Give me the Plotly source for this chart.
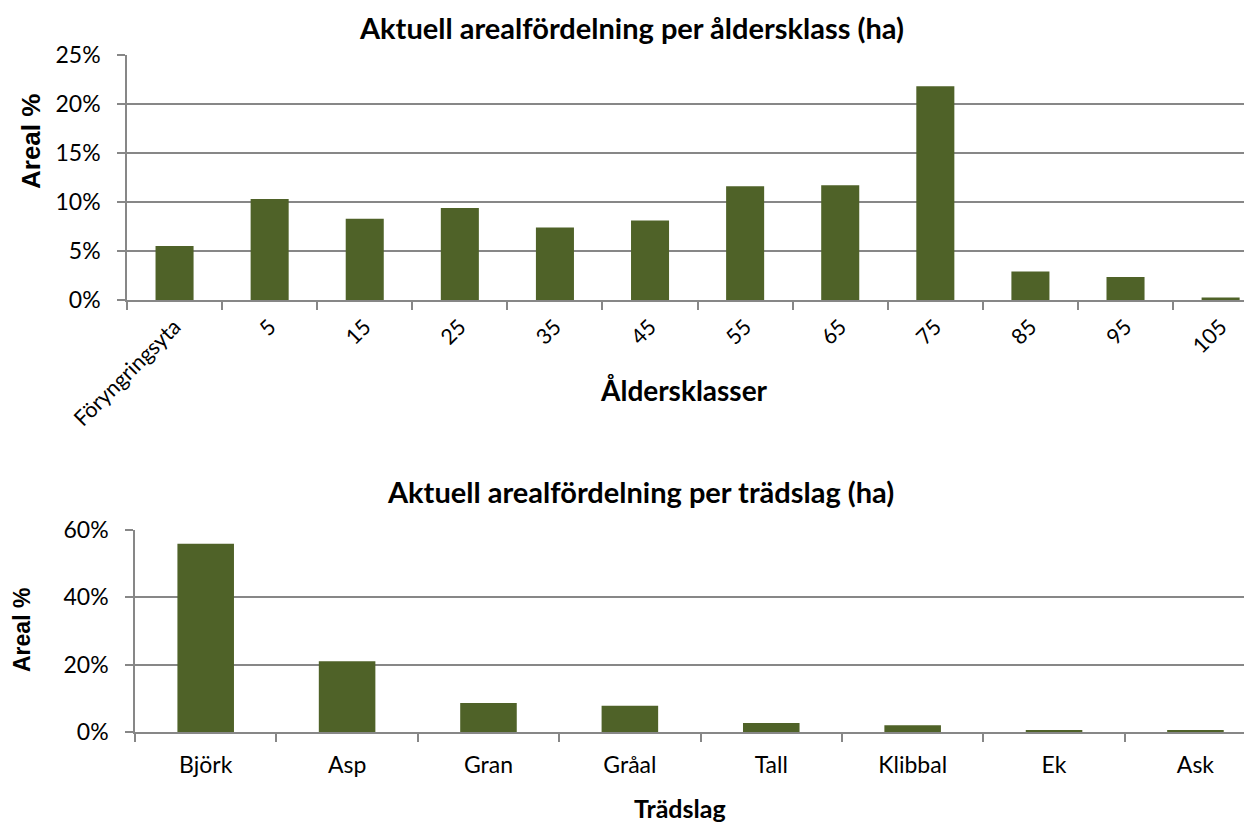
import plotly.graph_objects as go

# Data
age_classes = ["Föryngringsyta", "5", "15", "25", "35", "45", "55", "65", "75", "85", "95", "105"]
age_share = [5.5, 10.3, 8.3, 9.4, 7.4, 8.1, 11.6, 11.7, 21.8, 2.9, 2.35, 0.25]

species = ["Björk", "Asp", "Gran", "Gråal", "Tall", "Klibbal", "Ek", "Ask"]
species_share = [55.9, 21.0, 8.6, 7.8, 2.7, 2.0, 0.3, 0.3]

top_title = "Aktuell arealfördelning per åldersklass (ha)"
bottom_title = "Aktuell arealfördelning per trädslag (ha)"
top_xtitle = "Åldersklasser"
bottom_xtitle = "Trädslag"
ytitle = "Areal %"

OFF = 8  # page body margin
W, H = 1252 - OFF, 822 - OFF
BAR = "#4F6228"
GRID = "#878787"
FONT = "Lato, 'Open Sans', sans-serif"
AFONT = "'Liberation Sans', Arial, sans-serif"

def px(x):
    return (x - OFF) / W

def py(y):
    return 1 - (y - OFF) / H

fig = go.Figure()
fig.add_trace(go.Bar(x=age_classes, y=age_share, marker=dict(color=BAR, line=dict(width=0)),
                     xaxis="x", yaxis="y", showlegend=False))
fig.add_trace(go.Bar(x=species, y=species_share, marker=dict(color=BAR, line=dict(width=0)),
                     xaxis="x2", yaxis="y2", showlegend=False))

axis_common = dict(showline=True, linecolor=GRID, linewidth=1.5, mirror=False,
                   ticks="outside", tickcolor=GRID, tickwidth=1.5, ticklen=8,
                   automargin=False,
                   tickfont=dict(family=FONT, size=23, color="#000"))

fig.update_layout(
    width=W, height=H, margin=dict(l=0, r=0, t=0, b=0, autoexpand=False),
    paper_bgcolor="white", plot_bgcolor="white",
    bargap=0.6,
    xaxis=dict(domain=[px(127), 1.0], anchor="y", type="category",
               range=[-0.5, 11.33], tickson="boundaries", tickangle=-45,
               ticklabelstandoff=4,
               showgrid=False, **axis_common),
    yaxis=dict(domain=[py(300), py(55)], anchor="x", range=[0, 25],
               tickvals=[0, 5, 10, 15, 20, 25], ticktext=["0%", "5%", "10%", "15%", "20%", "25%"],
               showgrid=True, gridcolor=GRID, gridwidth=1.5, zeroline=False,
               ticklabelstandoff=12,
               **axis_common),
    xaxis2=dict(domain=[px(135), 1.0], anchor="y2", type="category",
                range=[-0.5, 7.4], tickson="boundaries", tickangle=0,
                ticklabelstandoff=12,
                showgrid=False, **axis_common),
    yaxis2=dict(domain=[py(732), py(530)], anchor="x2", range=[0, 60],
                tickvals=[0, 20, 40, 60], ticktext=["0%", "20%", "40%", "60%"],
                showgrid=True, gridcolor=GRID, gridwidth=1.5, zeroline=False,
                ticklabelstandoff=12,
                **axis_common),
)
fig.update_xaxes(tickfont=dict(size=21.5), selector=dict(anchor="y"))

annotations = [
    dict(text="<b>" + top_title + "</b>", x=px(631), y=py(28), font=dict(family=FONT, size=29)),
    dict(text="<b>" + top_xtitle + "</b>", x=px(684), y=py(390), font=dict(family=FONT, size=28)),
    dict(text="<b>" + ytitle + "</b>", x=px(31), y=py(142), textangle=-90, font=dict(family=AFONT, size=26)),
    dict(text="<b>" + bottom_title + "</b>", x=px(640), y=py(491), font=dict(family=FONT, size=29)),
    dict(text="<b>" + bottom_xtitle + "</b>", x=px(680), y=py(808), font=dict(family=FONT, size=25)),
    dict(text="<b>" + ytitle + "</b>", x=px(22), y=py(630), textangle=-90, font=dict(family=AFONT, size=23)),
]
for a in annotations:
    a.update(xref="paper", yref="paper", showarrow=False, xanchor="center", yanchor="middle")
    a["font"]["color"] = "#000"
fig.update_layout(annotations=annotations)

fig.write_html("out.html")
